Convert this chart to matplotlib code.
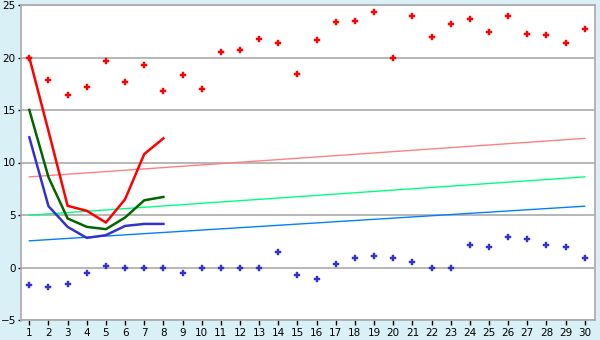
import matplotlib
matplotlib.use("Agg")
import matplotlib.pyplot as plt

x = list(range(1, 31))
red_points = [20.0, 17.9, 16.4, 17.2, 19.7, 17.7, 19.3, 16.8, 18.3, 17.0,
              20.5, 20.7, 21.8, 21.4, 18.4, 21.7, 23.4, 23.5, 24.3, 20.0,
              24.0, 22.0, 23.2, 23.7, 22.4, 24.0, 22.2, 22.1, 21.4, 22.7]
blue_points = [-1.7, -1.9, -1.6, -0.57, 0.1, 0.0, 0.0, 0.0, -0.48, 0.0,
               0.0, 0.0, 0.0, 1.43, -0.67, -1.05, 0.38, 0.95, 1.14, 0.95,
               0.48, 0.0, 0.0, 2.19, 2.0, 2.95, 2.76, 2.1, 2.0, 0.95]

x_short = [1, 2, 3, 4, 5, 6, 7, 8]
red_line = [20.0, 13.0, 5.87, 5.4, 4.28, 6.5, 10.8, 12.3]
green_line = [15.0, 8.6, 4.67, 3.87, 3.65, 4.76, 6.4, 6.72]
blue_line = [12.4, 5.84, 3.87, 2.82, 3.08, 3.96, 4.15, 4.15]

trend_x = [1, 30]
trend_red = [8.63, 12.3]
trend_green = [4.98, 8.63]
trend_blue = [2.54, 5.84]

yticks = [-5, 0, 5, 10, 15, 20, 25]

bg = "#d9f0f6"
grid_c = "#aaaaaa"

fig = plt.figure(figsize=(6, 3.4), dpi=100, facecolor=bg)
ax = fig.add_axes([20.7 / 600, 20 / 340, 574.6 / 600, 315 / 340])
ax.set_facecolor("white")

ax.set_xlim(0.55, 30.55)
ax.set_ylim(-5, 25)
ax.set_yticks(yticks)
ax.set_xticks(x)
for yv in yticks:
    ax.axhline(yv, color=grid_c, lw=1.2, zorder=1)

ax.plot(trend_x, trend_red, color="#ff8080", lw=1.0, zorder=2)
ax.plot(trend_x, trend_green, color="#00ff80", lw=1.0, zorder=2)
ax.plot(trend_x, trend_blue, color="#0080ff", lw=1.0, zorder=2)

ax.plot(x_short, red_line, color="#ff0000", lw=1.8, zorder=3)
ax.plot(x_short, green_line, color="#006600", lw=1.8, zorder=3)
ax.plot(x_short, blue_line, color="#3333cc", lw=1.8, zorder=3)

ax.plot(x, red_points, ls="none", marker="P", ms=5, color="#ff0000",
        mec="#ff0000", mew=0.3, zorder=4)
ax.plot(x, blue_points, ls="none", marker="P", ms=5, color="#3333cc",
        mec="#3333cc", mew=0.3, zorder=4)

for s in ax.spines.values():
    s.set_color(grid_c)
    s.set_linewidth(1.2)

ax.tick_params(axis="y", colors="black", labelsize=7.5, length=2.5,
               width=1, direction="out", pad=1)
ax.tick_params(axis="x", colors="black", labelsize=7.5, length=3.6,
               width=1, direction="out", pad=2)

fig.savefig("out.png", dpi=100, facecolor=bg)
